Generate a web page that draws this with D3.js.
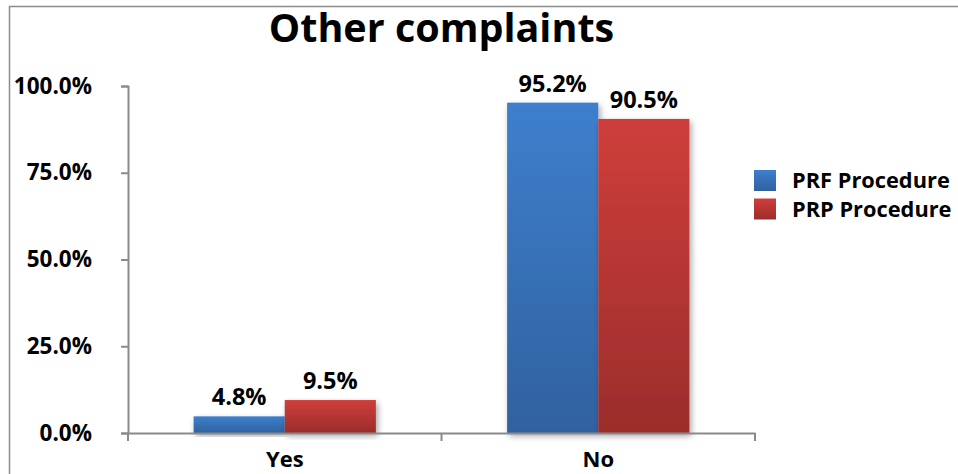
<!DOCTYPE html>
<html><head><meta charset="utf-8">
<script src="https://cdn.jsdelivr.net/npm/d3@7"></script>
<style>html,body{margin:0;padding:0;background:#fff;}svg{display:block;font-family:"Open Sans",sans-serif;font-weight:700;}</style>
</head><body>
<script>
const categories = ["Yes", "No"];
const seriesNames = ["PRF Procedure", "PRP Procedure"];
const prfValues = [0.048, 0.952];
const prpValues = [0.095, 0.905];
const tickValues = [0, 0.25, 0.5, 0.75, 1.0];
const title = "Other complaints";

const W = 958, H = 474;
const svg = d3.select("body").append("svg").attr("width", W).attr("height", H);
const defs = svg.append("defs");
const grads = [["gBlue", "#3e7fcd", "#30619f"], ["gRed", "#cf3e3b", "#9b2d2b"]];
grads.forEach(([id, a, b]) => {
  const g = defs.append("linearGradient").attr("id", id).attr("x1", 0).attr("y1", 0).attr("x2", 0).attr("y2", 1);
  g.append("stop").attr("offset", "0%").attr("stop-color", a);
  g.append("stop").attr("offset", "100%").attr("stop-color", b);
});
const f = defs.append("filter").attr("id", "sh").attr("x", "-20%").attr("y", "-20%").attr("width", "140%").attr("height", "140%");
f.append("feDropShadow").attr("dx", 2).attr("dy", 3).attr("stdDeviation", 3).attr("flood-color", "#000").attr("flood-opacity", 0.35);

svg.append("rect").attr("x", 9.5).attr("y", 6.5).attr("width", 980).attr("height", 500)
  .attr("fill", "#fff").attr("stroke", "#8c8c8c").attr("stroke-width", 1.5);

const x0 = d3.scaleBand().domain(categories).range([128, 755]).padding(0);
const x1 = d3.scaleBand().domain(seriesNames).range([0, x0.bandwidth()]).paddingInner(0).paddingOuter(0.72);
const y = d3.scaleLinear().domain([0, 1]).range([433, 86]);
const colors = d3.scaleOrdinal().domain(seriesNames).range(["url(#gBlue)", "url(#gRed)"]);

const data = categories.map((c, i) => ({cat: c, vals: [{s: seriesNames[0], v: prfValues[i]}, {s: seriesNames[1], v: prpValues[i]}]}));

const groups = svg.selectAll("g.grp").data(data).join("g").attr("class", "grp")
  .attr("transform", d => `translate(${x0(d.cat)},0)`);
groups.selectAll("rect").data(d => d.vals).join("rect")
  .attr("x", d => x1(d.s)).attr("width", x1.bandwidth())
  .attr("y", d => y(d.v)).attr("height", d => y(0) - y(d.v))
  .attr("fill", d => colors(d.s)).attr("filter", "url(#sh)");
groups.selectAll("text").data(d => d.vals).join("text")
  .attr("x", d => x1(d.s) + x1.bandwidth() / 2).attr("y", d => y(d.v) - 11)
  .attr("text-anchor", "middle").attr("font-size", 23.5).attr("fill", "#000")
  .text(d => (d.v * 100).toFixed(1) + "%");

// Y axis
const yAxis = d3.axisLeft(y).tickValues(tickValues).tickSize(7).tickPadding(29)
  .tickFormat(d => (d * 100).toFixed(1) + "%");
const gy = svg.append("g").attr("transform", "translate(128,0)").call(yAxis);
gy.select(".domain").attr("stroke", "#8a8a8a").attr("stroke-width", 2);
gy.selectAll(".tick line").attr("stroke", "#8a8a8a").attr("stroke-width", 2);
gy.selectAll(".tick text").attr("font-size", 22.5).attr("font-family", "Open Sans").attr("font-weight", 700).attr("fill", "#000");

// X axis
const xAxis = d3.axisBottom(x0).tickSize(0).tickPadding(0);
const gx = svg.append("g").attr("transform", "translate(0,433)").call(xAxis);
gx.select(".domain").attr("stroke", "#8a8a8a").attr("stroke-width", 2);
gx.selectAll(".tick text").attr("font-size", 22).attr("font-family", "Open Sans").attr("font-weight", 700).attr("fill", "#000")
  .attr("dy", null).attr("y", 34);
const edges = categories.map(c => x0(c)).concat([x0.range()[1]]);
gx.selectAll("line.sep").data(edges).join("line").attr("class", "sep")
  .attr("x1", d => d).attr("x2", d => d).attr("y1", 0).attr("y2", 8)
  .attr("stroke", "#8a8a8a").attr("stroke-width", 2);

// Title
svg.append("text").attr("x", (x0.range()[0] + x0.range()[1]) / 2).attr("y", 42)
  .attr("text-anchor", "middle").attr("font-size", 39.5).attr("fill", "#000").text(title);

// Legend
const lg = svg.append("g").attr("transform", "translate(754,170)");
const li = lg.selectAll("g").data(seriesNames).join("g").attr("transform", (d, i) => `translate(0,${i * 28.5})`);
li.append("rect").attr("width", 22).attr("height", 21).attr("fill", d => colors(d));
li.append("text").attr("x", 38).attr("y", 18).attr("font-size", 21.8).attr("fill", "#000").text(d => d);
</script>
</body></html>
